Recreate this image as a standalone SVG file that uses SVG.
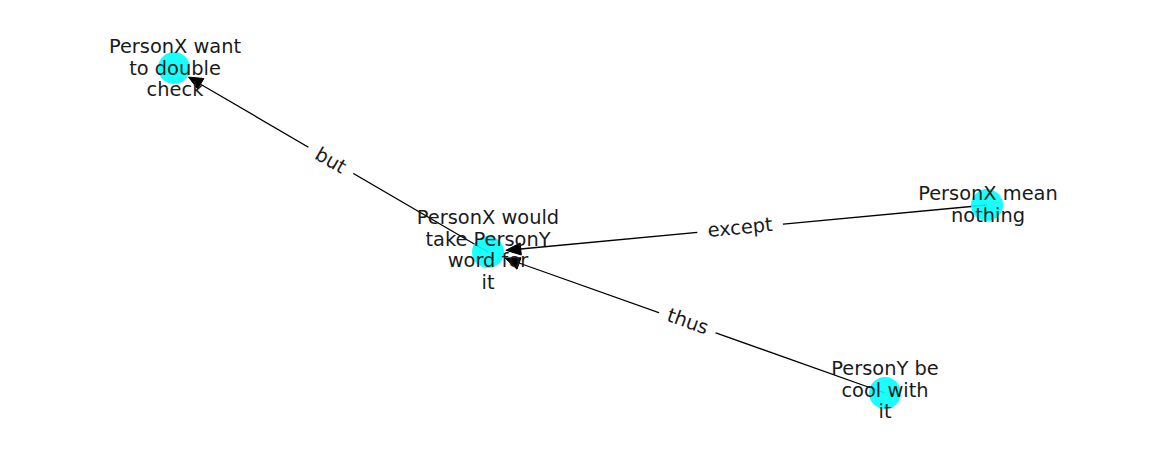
<svg xmlns="http://www.w3.org/2000/svg" width="1162" height="462" viewBox="0 0 1162 462">
<style>
.edge{stroke:#000;stroke-width:1.3;fill:none}
.head{fill:#000;stroke:#000;stroke-width:1}
.node{fill:#00ffff;opacity:0.9}
.lbl{font-family:"DejaVu Sans",sans-serif;font-size:19.4px;fill:#1a1a1a;text-anchor:middle}
.elbl{font-family:"DejaVu Sans",sans-serif;font-size:19.4px;fill:#1a1a1a;text-anchor:middle}
.bg{fill:#fff}
</style>
<rect width="1162" height="462" fill="#fff"/>
<g id="connectors">
  <line class="edge" x1="488" y1="252" x2="201" y2="84.5"/>
  <polygon class="head" points="188.5,77.1 203.9,78.5 197.7,89.0"/>
  <line class="edge" x1="987" y1="205" x2="520.5" y2="249"/>
  <polygon class="head" points="505.9,250.3 520.2,243.0 521.3,255.0"/>
  <line class="edge" x1="885" y1="393" x2="519" y2="263"/>
  <polygon class="head" points="505.0,258.0 521.0,257.8 517.0,269.2"/>
  <g transform="translate(331,160) rotate(30.3)">
    <rect class="bg" x="-26" y="-13" width="52" height="26" rx="4"/>
    <text class="elbl" y="7">but</text>
  </g>
  <g transform="translate(740,227) rotate(-5.4)">
    <rect class="bg" x="-43" y="-13" width="86" height="26" rx="4"/>
    <text class="elbl" y="7">except</text>
  </g>
  <g transform="translate(688,321) rotate(19.6)">
    <rect class="bg" x="-30" y="-13" width="60" height="26" rx="4"/>
    <text class="elbl" y="7">thus</text>
  </g>
</g>
<g id="node-want">
  <circle class="node" cx="174" cy="68" r="16"/>
  <text class="lbl"><tspan x="175" y="53">PersonX want</tspan><tspan x="175" y="75">to double</tspan><tspan x="175" y="96">check</tspan></text>
</g>
<g id="node-would">
  <circle class="node" cx="488" cy="252" r="16"/>
  <text class="lbl"><tspan x="488" y="224">PersonX would</tspan><tspan x="488" y="246">take PersonY</tspan><tspan x="488" y="267">word for</tspan><tspan x="488" y="289">it</tspan></text>
</g>
<g id="node-mean">
  <circle class="node" cx="987" cy="205" r="16"/>
  <text class="lbl"><tspan x="988" y="200">PersonX mean</tspan><tspan x="988" y="222">nothing</tspan></text>
</g>
<g id="node-cool">
  <circle class="node" cx="885" cy="393" r="16"/>
  <text class="lbl"><tspan x="885" y="375">PersonY be</tspan><tspan x="885" y="397">cool with</tspan><tspan x="885" y="418">it</tspan></text>
</g>
</svg>
